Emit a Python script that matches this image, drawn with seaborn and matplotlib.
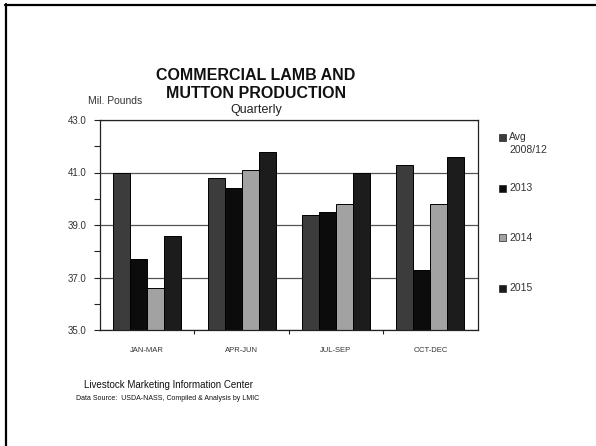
import matplotlib
matplotlib.use("Agg")
import matplotlib.pyplot as plt
from matplotlib.lines import Line2D
from matplotlib.patches import Rectangle
from matplotlib.ticker import MultipleLocator, FixedLocator
import seaborn as sns
import pandas as pd

# Quarterly commercial lamb and mutton production, million pounds
quarters = ["JAN-MAR", "APR-JUN", "JUL-SEP", "OCT-DEC"]
series = ["Avg\n2008/12", "2013", "2014", "2015"]
avg_2008_12 = [41.0, 40.8, 39.4, 41.3]
y2013 = [37.7, 40.4, 39.5, 37.3]
y2014 = [36.6, 41.1, 39.8, 39.8]
y2015 = [38.6, 41.8, 41.0, 41.6]
colors = ["#3c3c3c", "#0c0c0c", "#a2a2a2", "#1c1c1c"]

rows = []
for name, vals in zip(series, [avg_2008_12, y2013, y2014, y2015]):
    for q, v in zip(quarters, vals):
        rows.append({"quarter": q, "series": name, "value": v})
df = pd.DataFrame(rows)

sns.set_theme(style="white")
plt.rcParams["font.family"] = ["Liberation Sans", "DejaVu Sans"]

W, H = 596, 446
fig = plt.figure(figsize=(W / 100, H / 100), dpi=100)
fig.patch.set_facecolor("white")

ax = fig.add_axes([100 / W, 1 - 330 / H, 377.6 / W, 210 / H])
sns.barplot(data=df, x="quarter", y="value", hue="series", order=quarters,
            hue_order=series, palette=colors, width=0.72, edgecolor="black",
            linewidth=0.7, saturation=1, legend=False, ax=ax)

ax.set_ylim(35, 43)
ax.set_xlim(-0.5, 3.5)
ax.yaxis.set_major_locator(MultipleLocator(2))
ax.yaxis.set_minor_locator(MultipleLocator(1))
ax.set_yticklabels([f"{v:.1f}" for v in ax.get_yticks()])
ax.set_yticks([35, 37, 39, 41, 43])
ax.set_yticklabels(["35.0", "37.0", "39.0", "41.0", "43.0"])
ax.grid(axis="y", which="major", color="#555555", linewidth=0.9)
ax.set_axisbelow(True)
for sp in ax.spines.values():
    sp.set_color("#222222")
    sp.set_linewidth(0.9)
ax.tick_params(axis="y", which="both", direction="out", left=True,
               length=4, width=0.8, color="#222222", labelsize=7,
               labelcolor="#333333", pad=6)
ax.tick_params(axis="x", which="major", bottom=False, labelsize=5.5,
               labelcolor="#333333", pad=6)
ax.xaxis.set_minor_locator(FixedLocator([0.5, 1.5, 2.5]))
ax.tick_params(axis="x", which="minor", bottom=True, direction="out",
               length=3, width=0.8, color="#222222")
ax.set_xlabel("")
ax.set_ylabel("")

# Titles and axis caption
fig.text(256 / W, 1 - 76 / H, "COMMERCIAL LAMB AND", ha="center",
         va="center", fontsize=11.5, fontweight="bold", color="#111111")
fig.text(256 / W, 1 - 93 / H, "MUTTON PRODUCTION", ha="center",
         va="center", fontsize=11.5, fontweight="bold", color="#111111")
fig.text(256 / W, 1 - 110 / H, "Quarterly", ha="center", va="center",
         fontsize=9, color="#222222")
fig.text(88 / W, 1 - 101 / H, "Mil. Pounds", ha="left", va="center",
         fontsize=7.5, color="#333333")

# Legend entries on the right
legend_y = [137, 188, 238, 288]
for name, col, yy in zip(series, colors, legend_y):
    fig.patches.append(Rectangle(((499) / W, 1 - (yy + 3.5) / H), 7 / W, 7 / H,
                                 transform=fig.transFigure, facecolor=col,
                                 edgecolor="#222222", linewidth=0.5))
    fig.text(509 / W, 1 - (yy - 5) / H, name, ha="left", va="top",
             fontsize=7.5, color="#333333", linespacing=1.35)

# Footer
fig.text(168 / W, 1 - 385 / H, "Livestock Marketing Information Center",
         ha="center", va="center", fontsize=7, color="#111111")
fig.text(168 / W, 1 - 399 / H,
         "Data Source:  USDA-NASS, Compiled & Analysis by LMIC",
         ha="center", va="center", fontsize=5, color="#111111")

# Slide frame on top and left edges
fig.add_artist(Line2D([5 / W, 1], [1 - 5 / H, 1 - 5 / H],
                      transform=fig.transFigure, color="black", linewidth=1.6))
fig.add_artist(Line2D([6 / W, 6 / W], [0, 1 - 4.2 / H],
                      transform=fig.transFigure, color="black", linewidth=1.6))

fig.savefig("out.png", dpi=100, facecolor="white")
